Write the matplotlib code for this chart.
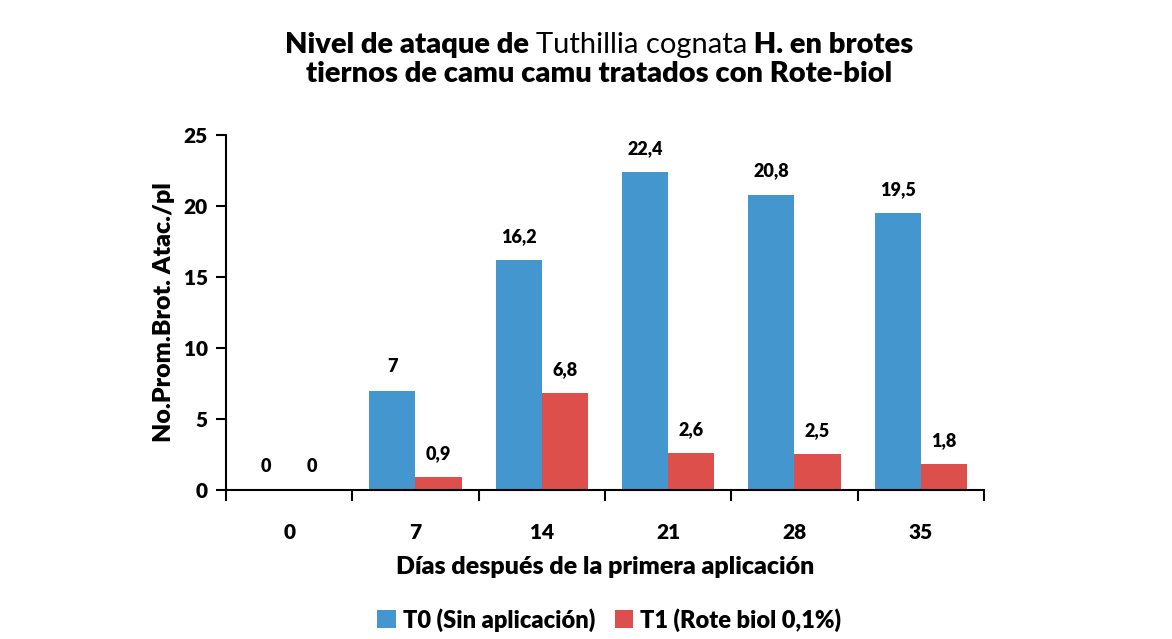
import matplotlib
matplotlib.use("Agg")
import matplotlib.pyplot as plt
import numpy as np

plt.rcParams["font.family"] = ["Lato", "DejaVu Sans"]

dias = ["0", "7", "14", "21", "28", "35"]
t0_sin_aplicacion = [0, 7, 16.2, 22.4, 20.8, 19.5]
t1_rote_biol = [0, 0.9, 6.8, 2.6, 2.5, 1.8]
etiquetas_t0 = ["0", "7", "16,2", "22,4", "20,8", "19,5"]
etiquetas_t1 = ["0", "0,9", "6,8", "2,6", "2,5", "1,8"]

color_t0 = "#4396CE"
color_t1 = "#DD4F4B"
PESO = "heavy"

fig = plt.figure(figsize=(11.72, 6.39), dpi=100)
ax = fig.add_axes([0.1928, 0.2332, 0.6468, 0.5555])

x = np.arange(len(dias))
w = 0.365
b0 = ax.bar(x - w / 2, t0_sin_aplicacion, w, color=color_t0, label="T0 (Sin aplicación)")
b1 = ax.bar(x + w / 2, t1_rote_biol, w, color=color_t1, label="T1 (Rote biol 0,1%)")

for bars, labels in ((b0, etiquetas_t0), (b1, etiquetas_t1)):
    for rect, lab in zip(bars, labels):
        ax.annotate(lab, (rect.get_x() + rect.get_width() / 2, rect.get_height()),
                    xytext=(0, 11), textcoords="offset points", ha="center", va="bottom",
                    fontsize=13, fontweight=PESO)

ax.set_xlim(-0.5, len(dias) - 0.5)
ax.set_ylim(0, 25)
ax.set_yticks([0, 5, 10, 15, 20, 25])
ax.set_xticks(np.arange(-0.5, len(dias)), minor=False)
ax.set_xticklabels([])
ax.set_xticks(x, minor=True)
ax.set_xticklabels(dias, minor=True)
ax.tick_params(axis="x", which="major", length=8, width=1.5, direction="out")
ax.tick_params(axis="x", which="minor", length=0, pad=24, labelsize=15)
ax.tick_params(axis="y", length=7, width=1.5, direction="out", labelsize=15, pad=6)
for lab in ax.get_xticklabels(minor=True) + ax.get_yticklabels():
    lab.set_fontweight(PESO)

for s in ("top", "right"):
    ax.spines[s].set_visible(False)
for s in ("left", "bottom"):
    ax.spines[s].set_linewidth(1.5)

ax.set_ylabel("No.Prom.Brot. Atac./pl", fontsize=18, fontweight=PESO, labelpad=6)
ax.set_xlabel("Días después de la primera aplicación", fontsize=18, fontweight=PESO, labelpad=10)

leg = fig.legend(loc="center", bbox_to_anchor=(0.52, 0.03), ncol=2, frameon=False,
                 fontsize=17, handlelength=0.8, handleheight=0.8, handletextpad=0.3,
                 columnspacing=0.8)
for t in leg.get_texts():
    t.set_fontweight(PESO)

# titulo con pesos mezclados
fig.canvas.draw()
renderer = fig.canvas.get_renderer()
partes = [("Nivel de ataque de ", PESO), ("Tuthillia cognata", "normal"), (" H. en brotes", PESO)]
textos = []
for s, wgt in partes:
    t = fig.text(0, 0.93, s, fontsize=21, fontweight=wgt, ha="left", va="center")
    textos.append(t)
fig.canvas.draw()
anchos = [t.get_window_extent(renderer).width for t in textos]
total = sum(anchos)
xpos = 599 - total / 2
for t, a in zip(textos, anchos):
    t.set_x(xpos / fig.bbox.width)
    xpos += a
fig.text(599 / 1172, 0.884, "tiernos de camu camu tratados con Rote-biol", fontsize=21,
         fontweight=PESO, ha="center", va="center")

fig.savefig("out.png", dpi=100)
